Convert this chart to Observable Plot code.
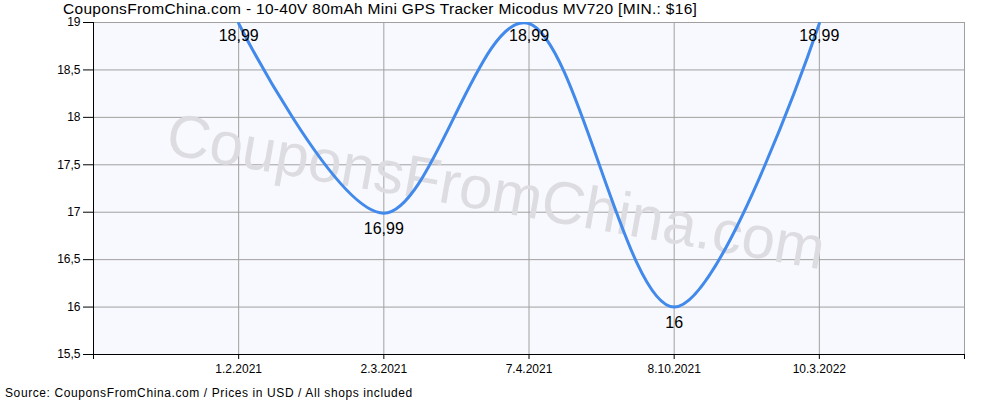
<!DOCTYPE html>
<html>
<head>
<meta charset="utf-8">
<script src="https://cdn.jsdelivr.net/npm/d3@7"></script>
<script src="https://cdn.jsdelivr.net/npm/@observablehq/plot@0.6"></script>
<style>
  body { margin: 0; background: #fff; }
  #wrap { position: relative; width: 1000px; height: 400px; font-family: "Liberation Sans", Arial, sans-serif; }
  #title { position: absolute; left: 63px; top: 0; font-size: 15.5px; line-height: 18px; letter-spacing: 0.3px; white-space: nowrap; color: #000; }
  #source { position: absolute; left: 5px; top: 386px; font-size: 12px; line-height: 14px; letter-spacing: 0.6px; white-space: nowrap; color: #000; }
  #chart { position: absolute; left: 0; top: 0; }
</style>
</head>
<body>
<div id="wrap">
  <div id="chart"></div>
  <div id="title"></div>
  <div id="source"></div>
</div>
<script>
const titleText = "CouponsFromChina.com - 10-40V 80mAh Mini GPS Tracker Micodus MV720 [MIN.: $16]";
const sourceText = "Source: CouponsFromChina.com / Prices in USD / All shops included";
const watermark = "CouponsFromChina.com";
const dates = ["1.2.2021", "2.3.2021", "7.4.2021", "8.10.2021", "10.3.2022"];
const prices = [18.99, 16.99, 18.99, 16, 18.99];
const yTicks = [15.5, 16, 16.5, 17, 17.5, 18, 18.5, 19];

document.getElementById("title").textContent = titleText;
document.getElementById("source").textContent = sourceText;

const data = dates.map((d, i) => ({i, date: d, price: prices[i]}));
const comma = v => String(v).replace(".", ",");
const xIdx = dates.map((d, i) => i);
const xEdges = [-1, dates.length];
const yMin = yTicks[0];
const topData = data.filter(d => d.price > 18.9);
const otherData = data.filter(d => d.price <= 18.9);
const font = "Liberation Sans, Arial, sans-serif";

const chart = Plot.plot({
  width: 1000,
  height: 400,
  marginLeft: 93,
  marginRight: 36,
  marginTop: 22,
  marginBottom: 46,
  style: {fontFamily: font, fontSize: "12px", color: "#000", background: "transparent"},
  x: {type: "linear", domain: xEdges, axis: null},
  y: {domain: [yMin, yTicks[yTicks.length - 1]], axis: null},
  marks: [
    Plot.frame({fill: "#f8f9fe", stroke: "#a0a0a0"}),
    Plot.gridX(xIdx, {stroke: "#a0a0a0", strokeOpacity: 1}),
    Plot.gridY(yTicks, {stroke: "#a0a0a0", strokeOpacity: 1}),
    Plot.text([watermark], {frameAnchor: "middle", dx: -33, dy: 4, rotate: 10, fontSize: 60, fill: "#dcdce1", fontFamily: font}),
    Plot.axisY({ticks: yTicks, tickSize: 10, tickFormat: () => "", label: null}),
    Plot.axisX({ticks: [-1, ...xIdx, dates.length], tickSize: 5, tickFormat: () => "", label: null}),
    Plot.text(yTicks, {x: () => xEdges[0], y: d => d, text: comma, textAnchor: "end", dx: -13, fontSize: 12, fill: "#000", fontFamily: font}),
    Plot.text(data, {x: "i", y: () => yMin, text: "date", lineAnchor: "top", dy: 10, fontSize: 12, fill: "#000", fontFamily: font}),
    Plot.ruleX([xEdges[0]], {stroke: "#000"}),
    Plot.ruleY([yMin], {stroke: "#000"}),
    Plot.line(data, {x: "i", y: "price", curve: "cardinal", stroke: "#4189ea", strokeWidth: 3, clip: true}),
    Plot.text(topData, {x: "i", y: "price", text: d => comma(d.price), dy: 12, fontSize: 16, fill: "#000"}),
    Plot.text(otherData, {x: "i", y: "price", text: d => comma(d.price), dy: 16, fontSize: 16, fill: "#000"})
  ]
});
document.getElementById("chart").appendChild(chart);
</script>
</body>
</html>
